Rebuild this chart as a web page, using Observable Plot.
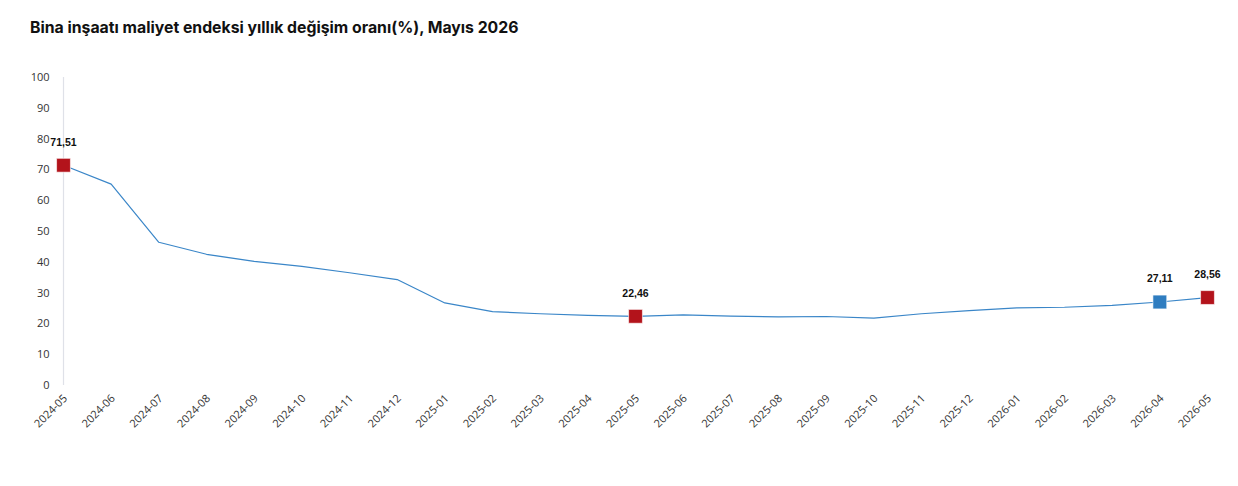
<!DOCTYPE html>
<html>
<head>
<meta charset="utf-8">
<script src="https://cdn.jsdelivr.net/npm/d3@7"></script>
<script src="https://cdn.jsdelivr.net/npm/@observablehq/plot@0.6"></script>
<style>
  html, body { margin: 0; padding: 0; background: #fff; }
  #title { height: 50px; box-sizing: border-box; padding: 18px 0 0 30px; font: 700 15.8px Inter, "Open Sans", sans-serif; line-height: 20px; color: #111; }
  #chart svg { display: block; }
</style>
</head>
<body>
<div id="title">Bina inşaatı maliyet endeksi yıllık değişim oranı(%), Mayıs 2026</div>
<div id="chart"></div>
<script>
const months = ["2024-05","2024-06","2024-07","2024-08","2024-09","2024-10","2024-11","2024-12",
  "2025-01","2025-02","2025-03","2025-04","2025-05","2025-06","2025-07","2025-08","2025-09","2025-10",
  "2025-11","2025-12","2026-01","2026-02","2026-03","2026-04","2026-05"];
const values = [71.51, 65.4, 46.5, 42.6, 40.3, 38.7, 36.6, 34.4,
  26.8, 24.0, 23.3, 22.8, 22.46, 22.9, 22.5, 22.3, 22.4, 21.9,
  23.3, 24.3, 25.2, 25.4, 26.0, 27.11, 28.56];
const highlightMonths = ["2024-05", "2025-05", "2026-04", "2026-05"];
const highlightColors = ["#b3131b", "#b3131b", "#2f7dc0", "#b3131b"];
const yTicks = [0,10,20,30,40,50,60,70,80,90,100];

const data = months.map((m, i) => ({month: m, value: values[i]}));
const hl = highlightMonths.map((m, i) => ({month: m, value: values[months.indexOf(m)], color: highlightColors[i]}));
const fmt = v => v.toFixed(2).replace(".", ",");

const plot = Plot.plot({
  width: 1238,
  height: 430,
  marginTop: 27,
  marginBottom: 95,
  marginLeft: 63,
  marginRight: 31,
  style: {fontFamily: "'Open Sans', sans-serif", fontSize: "11px", color: "#333"},
  x: {type: "point", domain: months, padding: 0, inset: 0, round: false},
  y: {domain: [0, 100]},
  marks: [
    Plot.ruleY([0], {x1: months[0], x2: months[months.length - 1], stroke: "#dfe1e8", strokeWidth: 1.2}),
    Plot.ruleX([months[0]], {y1: 0, y2: 100, stroke: "#dfe1e8", strokeWidth: 1.2}),
    Plot.axisY({ticks: yTicks, tickSize: 0, tickPadding: 14, label: null, fill: "#333"}),
    Plot.axisX({tickRotate: -45, tickSize: 0, tickPadding: 11, dx: 2, label: null, fill: "#333"}),
    Plot.line(data, {x: "month", y: "value", stroke: "#3a86c8", strokeWidth: 1.2}),
    Plot.dot(hl, {x: "month", y: "value", symbol: "square", r: 7.8, fill: d => d.color, stroke: "#fff", strokeWidth: 0.6}),
    Plot.text(hl, {x: "month", y: "value", text: d => fmt(d.value), dy: -23, fontWeight: "bold", fontSize: 10.5, fontFamily: "Arial, 'Liberation Sans', sans-serif", fill: "#111"})
  ]
});
document.getElementById("chart").appendChild(plot);
</script>
</body>
</html>
